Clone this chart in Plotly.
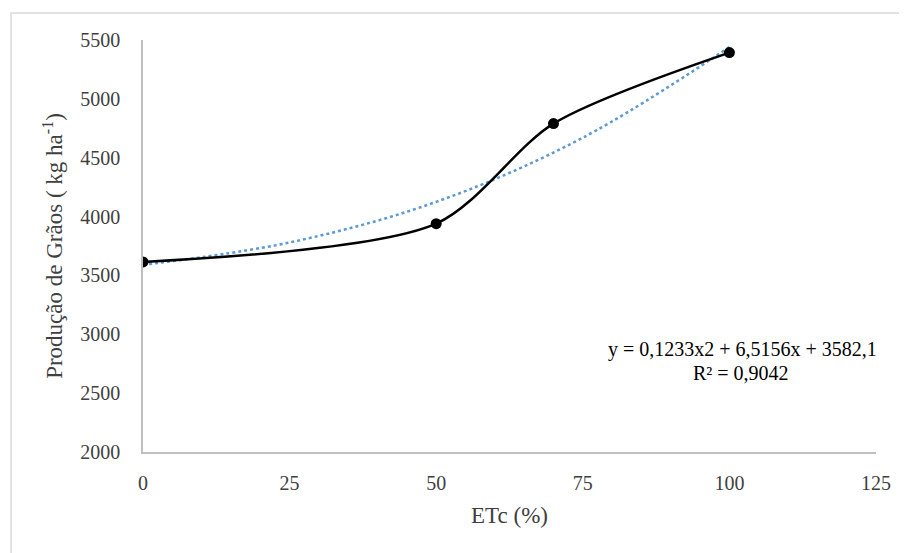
import plotly.graph_objects as go

# Data
etc_pct = [0, 50, 70, 100]
producao = [3615, 3940, 4790, 5393]

# Polynomial trendline
trend_x = [0, 25, 50, 75, 100]
trend_y = [3590, 3780, 4125, 4670, 5440]

x_ticks = [0, 25, 50, 75, 100, 125]
y_ticks = [2000, 2500, 3000, 3500, 4000, 4500, 5000, 5500]

eq_line1 = "y = 0,1233x2 + 6,5156x + 3582,1"
eq_line2 = "R² = 0,9042"

font_family = "Liberation Serif"
tick_color = "#404040"

fig = go.Figure()
fig.add_trace(go.Scatter(
    x=trend_x, y=trend_y, mode="lines",
    line=dict(color="#5B9BD5", width=2.5, dash="dot", shape="spline", smoothing=1.0),
    hoverinfo="skip", showlegend=False))
fig.add_trace(go.Scatter(
    x=etc_pct, y=producao, mode="lines+markers",
    line=dict(color="black", width=2.5, shape="spline", smoothing=0.8),
    marker=dict(color="black", size=11),
    showlegend=False))

fig.add_annotation(x=102.3, y=2867, xref="x", yref="y", text=eq_line1,
                   showarrow=False, align="center",
                   font=dict(family=font_family, size=20, color="black"))
fig.add_annotation(x=102.0, y=2672, xref="x", yref="y", text=eq_line2,
                   showarrow=False, align="center",
                   font=dict(family=font_family, size=20, color="black"))

# outer chart border (partly cut off)
fig.add_shape(type="rect", xref="paper", yref="paper",
              x0=-0.180, x1=1.08, y0=-0.30, y1=1.0655,
              line=dict(color="#d9d9d9", width=1.5), fillcolor="rgba(0,0,0,0)",
              layer="below")

fig.update_layout(
    width=907, height=553,
    margin=dict(l=135, r=39, t=32, b=109),
    paper_bgcolor="white", plot_bgcolor="white",
    font=dict(family=font_family, size=20, color=tick_color),
    xaxis=dict(range=[0, 125], tickvals=x_ticks, showgrid=False, zeroline=False,
               showline=True, linecolor="#bfbfbf", linewidth=1.5,
               ticks="outside", ticklen=12, tickcolor="rgba(0,0,0,0)",
               tickfont=dict(family=font_family, size=20, color=tick_color),
               title=dict(text="ETc (%)", standoff=14,
                          font=dict(family=font_family, size=23, color=tick_color))),
    yaxis=dict(range=[2000, 5500], tickvals=y_ticks, showgrid=False, zeroline=False,
               showline=True, linecolor="#bfbfbf", linewidth=1.5,
               ticks="outside", ticklen=17, tickcolor="rgba(0,0,0,0)",
               tickfont=dict(family=font_family, size=20, color=tick_color),
               title=dict(text="Produção de Grãos ( kg ha<sup>-1</sup>)", standoff=11,
                          font=dict(family=font_family, size=23, color=tick_color))),
)

fig.write_html("out.html")
